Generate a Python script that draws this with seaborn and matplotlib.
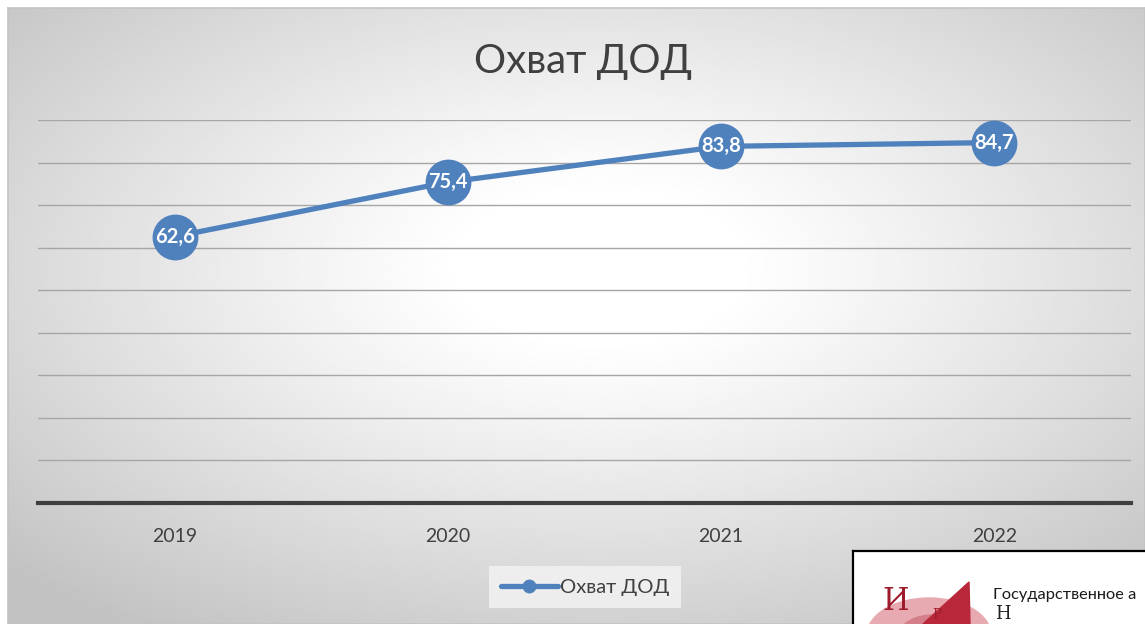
import numpy as np
import pandas as pd
import matplotlib.pyplot as plt
import matplotlib.patches as mpatches
import seaborn as sns

years = ["2019", "2020", "2021", "2022"]
coverage = [62.6, 75.4, 83.8, 84.7]
series_name = "Охват ДОД"

sns.set_theme(style="white")
plt.rcParams["font.family"] = ["Lato", "DejaVu Sans"]

W, H = 1145, 624
fig = plt.figure(figsize=(W / 100, H / 100), dpi=100)
fig.patch.set_facecolor("white")

# chart area background with radial gradient
bg = fig.add_axes([8 / W, 0, 1 - 8 / W, 1 - 8 / H])
gx, gy = np.meshgrid(np.linspace(0, 1, 400), np.linspace(0, 1, 240))
r = np.sqrt((gx - 0.52) ** 2 + (gy - 0.42) ** 2)
shade = 1 - 0.24 * np.clip((r - 0.12) / 0.6, 0, 1) ** 1.1
bg.imshow(shade, cmap="gray", vmin=0, vmax=1, aspect="auto",
          extent=[0, 1, 1, 0], interpolation="bilinear")
bg.set_xlim(0, 1)
bg.set_ylim(1, 0)
bg.set_xticks([])
bg.set_yticks([])
for s in bg.spines.values():
    s.set_color("#c4c4c4")
    s.set_linewidth(1.2)

ax = fig.add_axes([38 / W, 1 - 503 / H, (1131 - 38) / W, (503 - 120) / H])
ax.patch.set_alpha(0)

df = pd.DataFrame({"year": years, "value": coverage})
blue = "#4f81bd"
sns.lineplot(data=df, x="year", y="value", ax=ax, color=blue, linewidth=3.8,
             marker="o", markersize=33, markeredgewidth=0, sort=False,
             label=series_name, zorder=3)

for i, v in enumerate(coverage):
    ax.text(i, v, f"{v:.1f}".replace(".", ","), ha="center", va="center",
            color="white", fontsize=14.5, fontweight="bold", zorder=4)

ax.set_ylim(0, 90)
ax.set_xlim(-0.5, 3.5)
ax.set_yticks(np.arange(10, 91, 10))
ax.set_yticklabels([])
ax.grid(axis="y", color="#a6a6a6", linewidth=1.0)
ax.tick_params(axis="y", length=0)
ax.tick_params(axis="x", length=0, labelsize=14, labelcolor="#404040", pad=18)
ax.set_xlabel("")
ax.set_ylabel("")
for s in ["top", "right", "left"]:
    ax.spines[s].set_visible(False)
ax.spines["bottom"].set_color("#3f3f3f")
ax.spines["bottom"].set_linewidth(3)

leg = ax.legend(loc="center", bbox_to_anchor=(585 / W, 1 - 587 / H),
                bbox_transform=fig.transFigure, frameon=True, fontsize=14.5,
                handlelength=2.8, handletextpad=0.1, borderpad=0.6,
                borderaxespad=0, fancybox=False)
leg.get_frame().set_facecolor("#f4f4f4")
leg.get_frame().set_edgecolor("none")
for t in leg.get_texts():
    t.set_color("#404040")
for h in leg.legend_handles:
    h.set_markersize(10)

fig.text(583 / W, 1 - 62 / H, "Охват ДОД", ha="center", va="center",
         fontsize=29, color="#404040")

# overlapping logo box in the corner
logo = fig.add_axes([853 / W, 0, (W - 853) / W, (624 - 551) / H])
logo.set_xlim(0, 292)
logo.set_ylim(73, 0)
logo.set_facecolor("white")
logo.set_xticks([])
logo.set_yticks([])
for s in logo.spines.values():
    s.set_color("black")
    s.set_linewidth(1.6)
logo.spines["right"].set_visible(False)
logo.spines["bottom"].set_visible(False)
logo.add_patch(mpatches.Ellipse((76, 84), 124, 74, color="#e8aab1", zorder=1))
logo.add_patch(mpatches.Ellipse((80, 86), 70, 44, color="#d47e8a", zorder=1))
logo.add_patch(mpatches.Polygon([[70, 73], [116, 31], [117, 73]],
                                color="#b8283a", zorder=2))
logo.text(43, 50, "И", fontsize=22, color="#9e1b2c", family="DejaVu Serif",
          ha="center", va="center", zorder=3)
logo.text(84, 64, "Р", fontsize=10, color="#9e1b2c", family="DejaVu Serif",
          ha="center", va="center", zorder=3)
logo.text(140, 44, "Государственное а", fontsize=11.8,
          color="#1a1a1a", ha="left", va="center", clip_on=True)
logo.text(142, 63, "Н", fontsize=13, color="#222222", family="DejaVu Serif",
          ha="left", va="center", clip_on=True)

fig.savefig("out.png", dpi=100)
